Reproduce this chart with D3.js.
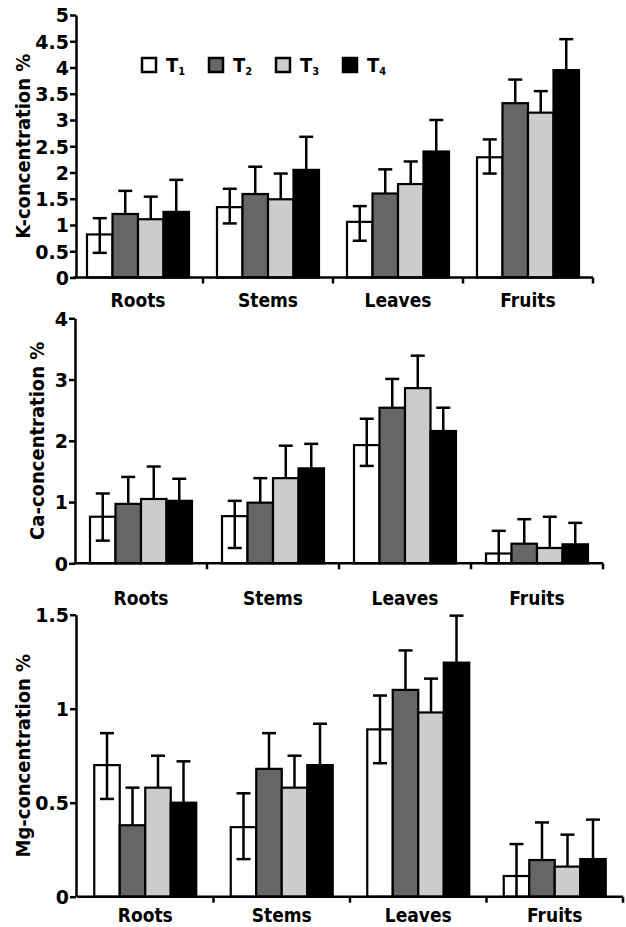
<!DOCTYPE html>
<html>
<head>
<meta charset="utf-8">
<script src="https://cdn.jsdelivr.net/npm/d3@7"></script>
<style>
  body { margin: 0; background: #fff; }
  text { font-family: "DejaVu Sans", sans-serif; font-weight: bold; font-stretch: condensed; fill: #000; }
  .tick text { font-stretch: normal; }
</style>
</head>
<body>
<svg id="chart" width="626" height="927"></svg>
<script>
// categories + treatments
const organs = ["Roots", "Stems", "Leaves", "Fruits"]
const treatments = ["T1", "T2", "T3", "T4"]
const treatmentColours = ["#ffffff", "#666666", "#cccccc", "#000000"]

// K concentration (%), mean and error per treatment
const kT1 = [0.82, 1.34, 1.06, 2.29]
const kT2 = [1.21, 1.59, 1.60, 3.32]
const kT3 = [1.11, 1.49, 1.78, 3.14]
const kT4 = [1.25, 2.05, 2.40, 3.95]
const kErrT1 = [0.31, 0.35, 0.30, 0.34]
const kErrT2 = [0.44, 0.52, 0.46, 0.45]
const kErrT3 = [0.43, 0.49, 0.43, 0.41]
const kErrT4 = [0.61, 0.63, 0.60, 0.59]
const kLowT1 = [0.47, 1.03, 0.70, 1.98]
const kTicks = [0, 0.5, 1, 1.5, 2, 2.5, 3, 3.5, 4, 4.5, 5]

// Ca concentration (%)
const caT1 = [0.76, 0.77, 1.93, 0.16]
const caT2 = [0.97, 0.99, 2.54, 0.32]
const caT3 = [1.05, 1.39, 2.86, 0.25]
const caT4 = [1.02, 1.55, 2.16, 0.31]
const caErrT1 = [0.38, 0.25, 0.43, 0.37]
const caErrT2 = [0.44, 0.40, 0.47, 0.40]
const caErrT3 = [0.53, 0.53, 0.53, 0.51]
const caErrT4 = [0.36, 0.40, 0.38, 0.35]
const caLowT1 = [0.37, 0.25, 1.59, 0]
const caTicks = [0, 1, 2, 3, 4]

// Mg concentration (%)
const mgT1 = [0.70, 0.37, 0.89, 0.11]
const mgT2 = [0.38, 0.68, 1.10, 0.195]
const mgT3 = [0.58, 0.58, 0.98, 0.16]
const mgT4 = [0.50, 0.70, 1.245, 0.20]
const mgErrT1 = [0.17, 0.18, 0.18, 0.17]
const mgErrT2 = [0.20, 0.19, 0.21, 0.20]
const mgErrT3 = [0.17, 0.17, 0.18, 0.17]
const mgErrT4 = [0.22, 0.22, 0.25, 0.21]
const mgLowT1 = [0.52, 0.20, 0.71, 0]
const mgTicks = [0, 0.5, 1, 1.5]

const svg = d3.select('#chart')

const groupWidth = 102
const capWidth = 14

function drawPanel(props) {
  const { title, means, errs, lowT1, ticks, top, bottom, axisX, xStart, xEnd, labelGap, titleX } = props

  const g = svg.append('g')

  const yScale = d3.scaleLinear()
    .domain([0, d3.max(ticks)])
    .range([bottom, top])

  const xScale = d3.scaleBand()
    .domain(organs)
    .range([xStart, xEnd])

  // bars inside each organ group
  const bw = xScale.bandwidth()
  const xInner = d3.scaleBand()
    .domain(treatments)
    .range([(bw - groupWidth) / 2, (bw + groupWidth) / 2])

  // flatten to rows
  const rows = []
  treatments.forEach((t, i) => {
    organs.forEach((o, j) => {
      rows.push({ organ: o, t: t, i: i, v: means[i][j], e: errs[i][j], low: i == 0 ? lowT1[j] : null })
    })
  })

  const midX = d => xScale(d.organ) + xInner(d.t) + xInner.bandwidth() / 2

  // error bars (upper part first, so bars cover the stem bottom)
  const errG = g.append('g')
  errG.selectAll('line.stem').data(rows).enter().append('line')
    .attr('class', 'stem')
    .attr('x1', midX).attr('x2', midX)
    .attr('y1', d => yScale(d.v))
    .attr('y2', d => yScale(d.v + d.e))
    .attr('stroke', '#000').attr('stroke-width', 2.5)
  errG.selectAll('line.cap').data(rows).enter().append('line')
    .attr('class', 'cap')
    .attr('x1', d => midX(d) - capWidth / 2)
    .attr('x2', d => midX(d) + capWidth / 2)
    .attr('y1', d => yScale(d.v + d.e))
    .attr('y2', d => yScale(d.v + d.e))
    .attr('stroke', '#000').attr('stroke-width', 2.5)

  g.append('g').selectAll('rect').data(rows).enter().append('rect')
    .attr('x', d => xScale(d.organ) + xInner(d.t))
    .attr('width', xInner.bandwidth())
    .attr('y', d => yScale(d.v))
    .attr('height', d => yScale(0) - yScale(d.v))
    .attr('fill', d => treatmentColours[d.i])
    .attr('stroke', '#000')
    .attr('stroke-width', 2.2)

  // lower whisker only shows on the white T1 bars
  const lowRows = rows.filter(d => d.low !== null)
  const lowG = g.append('g')
  lowG.selectAll('line.stem').data(lowRows).enter().append('line')
    .attr('x1', midX).attr('x2', midX)
    .attr('y1', d => yScale(d.v))
    .attr('y2', d => yScale(d.low))
    .attr('stroke', '#000').attr('stroke-width', 2.5)
  lowG.selectAll('line.cap').data(lowRows.filter(d => d.low > 0)).enter().append('line')
    .attr('x1', d => midX(d) - capWidth / 2)
    .attr('x2', d => midX(d) + capWidth / 2)
    .attr('y1', d => yScale(d.low))
    .attr('y2', d => yScale(d.low))
    .attr('stroke', '#000').attr('stroke-width', 2.5)

  // y axis
  const yAxis = d3.axisLeft(yScale)
    .tickValues(ticks)
    .tickFormat(d => String(d))
    .tickSize(6)
    .tickSizeOuter(0)
    .tickPadding(1)
  const yAxisG = g.append('g')
    .attr('transform', `translate(${axisX},0)`)
    .call(yAxis)
  yAxisG.select('.domain').attr('stroke-width', 2.5)
  yAxisG.selectAll('.tick line').attr('stroke-width', 2.5)
  yAxisG.selectAll('.tick text').attr('font-size', 19).attr('font-family', null).attr('dy', '0.36em')

  // x axis: ticks at the group boundaries
  const xAxisG = g.append('g')
  xAxisG.append('line')
    .attr('x1', xStart).attr('x2', xEnd)
    .attr('y1', yScale(0)).attr('y2', yScale(0))
    .attr('stroke', '#000').attr('stroke-width', 2.5)
  xAxisG.selectAll('line.sep').data(organs).enter().append('line')
    .attr('x1', d => xScale(d) + bw).attr('x2', d => xScale(d) + bw)
    .attr('y1', yScale(0)).attr('y2', yScale(0) + 6)
    .attr('stroke', '#000').attr('stroke-width', 2.5)
  xAxisG.selectAll('text').data(organs).enter().append('text')
    .attr('x', d => xScale(d) + bw / 2)
    .attr('y', yScale(0) + labelGap)
    .attr('text-anchor', 'middle')
    .attr('font-size', 19)
    .text(d => d)

  // axis title
  g.append('text')
    .attr('transform', `translate(${titleX},${(top + bottom) / 2}) rotate(-90)`)
    .attr('text-anchor', 'middle')
    .attr('font-size', 20)
    .text(title)

  return g
}

const kPanel = drawPanel({
  title: 'K-concentration %',
  means: [kT1, kT2, kT3, kT4], errs: [kErrT1, kErrT2, kErrT3, kErrT4], lowT1: kLowT1,
  ticks: kTicks, top: 15, bottom: 277.5, axisX: 76, xStart: 73, xEnd: 593, labelGap: 29, titleX: 30
})

drawPanel({
  title: 'Ca-concentration %',
  means: [caT1, caT2, caT3, caT4], errs: [caErrT1, caErrT2, caErrT3, caErrT4], lowT1: caLowT1,
  ticks: caTicks, top: 318.3, bottom: 563.3, axisX: 75, xStart: 75, xEnd: 603, labelGap: 42, titleX: 44
})

drawPanel({
  title: 'Mg-concentration %',
  means: [mgT1, mgT2, mgT3, mgT4], errs: [mgErrT1, mgErrT2, mgErrT3, mgErrT4], lowT1: mgLowT1,
  ticks: mgTicks, top: 614.7, bottom: 896.7, axisX: 76, xStart: 77, xEnd: 623, labelGap: 25, titleX: 30
})

// legend in the K panel
const legendScale = d3.scalePoint()
  .domain(treatments)
  .range([141, 342])

const legend = kPanel.append('g').attr('class', 'legend')
const items = legend.selectAll('g').data(treatments).enter().append('g')
  .attr('transform', d => `translate(${legendScale(d)},57)`)
items.append('rect')
  .attr('x', 1).attr('y', 1)
  .attr('width', 14).attr('height', 14)
  .attr('fill', (d, i) => treatmentColours[i])
  .attr('stroke', '#000').attr('stroke-width', 2.5)
const lt = items.append('text')
  .attr('x', 25).attr('y', 15)
  .attr('font-size', 20)
lt.append('tspan').text('T')
lt.append('tspan').attr('font-size', 11).attr('dy', 3).text(d => d.slice(1))
</script>
</body>
</html>
